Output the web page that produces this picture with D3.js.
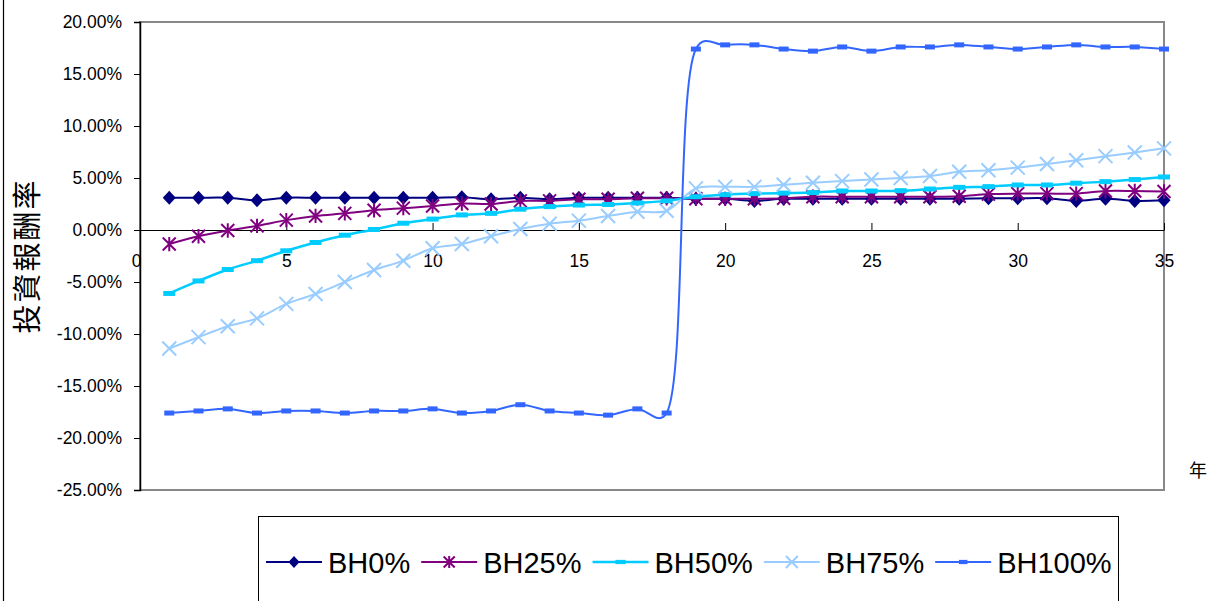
<!DOCTYPE html>
<html><head><meta charset="utf-8">
<script src="https://cdn.jsdelivr.net/npm/d3@7"></script>
<style>body{margin:0;background:#fff}svg{display:block}</style>
</head><body><svg id="c" width="1213" height="601"></svg>
<script>
const years=[1,2,3,4,5,6,7,8,9,10,11,12,13,14,15,16,17,18,19,20,21,22,23,24,25,26,27,28,29,30,31,32,33,34,35];
const bh0=[3.1,3.1,3.1,2.85,3.1,3.1,3.1,3.1,3.1,3.1,3.15,2.95,3.1,2.95,3.1,3.1,3.1,3.1,3.0,3.0,2.8,3.0,3.0,3.0,3.0,3.0,3.0,3.0,3.05,3.05,3.05,2.8,3.0,2.8,2.85];
const bh25=[-1.35,-0.6,-0.05,0.4,0.95,1.35,1.6,1.9,2.1,2.3,2.55,2.5,2.8,2.8,2.95,2.95,3.05,3.05,3.0,3.0,3.0,3.05,3.2,3.2,3.2,3.2,3.2,3.25,3.45,3.5,3.5,3.5,3.75,3.75,3.7];
const bh50=[-6.1,-4.9,-3.8,-2.95,-2.0,-1.2,-0.5,0.05,0.65,1.05,1.45,1.6,2.0,2.25,2.4,2.45,2.6,2.8,3.2,3.4,3.5,3.55,3.6,3.75,3.75,3.78,3.94,4.1,4.17,4.33,4.33,4.5,4.65,4.85,5.1];
const bh75=[-11.4,-10.3,-9.25,-8.5,-7.1,-6.15,-5.0,-3.85,-2.95,-1.75,-1.35,-0.6,0.1,0.6,0.9,1.35,1.75,1.85,4.0,4.15,4.15,4.35,4.55,4.7,4.85,5.0,5.2,5.6,5.75,6.0,6.35,6.7,7.1,7.45,7.85];
const bh100=[-17.6,-17.4,-17.2,-17.6,-17.4,-17.4,-17.6,-17.4,-17.4,-17.2,-17.6,-17.4,-16.8,-17.4,-17.6,-17.8,-17.2,-17.6,17.4,17.8,17.8,17.4,17.2,17.6,17.2,17.6,17.6,17.8,17.6,17.4,17.6,17.8,17.6,17.6,17.4];
const seriesNames=["BH0%","BH25%","BH50%","BH75%","BH100%"];
const seriesColors=["#000080","#800080","#00CCFF","#99CCFF","#3366FF"];
const seriesMarkers=["diamond","star","dash","cross","smalldash"];
const xTicks=[0,5,10,15,20,25,30,35];
const yTicks=[-25,-20,-15,-10,-5,0,5,10,15,20];
const yTitle="投資報酬率";
const xTitle="年";

const seriesValues=[bh0,bh25,bh50,bh75,bh100];
const svg=d3.select("#c");
const FONT="'Liberation Sans', Arial, sans-serif";
const CJK="'Noto Sans CJK TC','Noto Sans CJK SC',sans-serif";

const x=d3.scaleLinear().domain([0,35]).range([140,1164]);
const y=d3.scaleLinear().domain([-25,20]).range([490,22]);

// outer left frame line
svg.append("line").attr("x1",3.5).attr("x2",3.5).attr("y1",0).attr("y2",601)
  .attr("stroke","#000").attr("stroke-width",1.2);

// plot area border
svg.append("rect").attr("x",x(0)).attr("y",y(20)).attr("width",x(35)-x(0)).attr("height",y(-25)-y(20))
  .attr("fill","none").attr("stroke","#888").attr("stroke-width",2);

// y axis
const ya=svg.append("g").attr("transform",`translate(${x(0)},0)`)
  .call(d3.axisLeft(y).tickValues(yTicks).tickSize(6).tickPadding(12).tickFormat(d=>d.toFixed(2)+"%"));
ya.select(".domain").attr("stroke","#000").attr("stroke-width",1.5);
ya.selectAll(".tick line").attr("stroke","#000");
ya.selectAll("text").attr("font-family",FONT).attr("font-size",17.5).attr("fill","#000");

// x axis at y=0
const xa=svg.append("g").attr("transform",`translate(0,${y(0)})`)
  .call(d3.axisBottom(x).tickValues(xTicks).tickSizeInner(-7).tickSizeOuter(0).tickPadding(25).tickFormat(d3.format("d")));
xa.select(".domain").attr("stroke","#000").attr("stroke-width",1.2);
xa.selectAll(".tick line").attr("stroke","#000");
xa.selectAll("text").attr("font-family",FONT).attr("font-size",17.5).attr("fill","#000");
xa.selectAll(".tick").filter(d=>d===0).select("text").attr("dx",-4);

// titles
svg.append("text").attr("transform",`translate(38,256) rotate(-90)`)
  .attr("text-anchor","middle").attr("font-family",CJK).attr("font-size",29)
  .attr("letter-spacing",2).attr("fill","#000").text(yTitle);
svg.append("text").attr("x",1198).attr("y",477).attr("text-anchor","middle")
  .attr("font-family",CJK).attr("font-size",18).attr("fill","#000").text(xTitle);

// markers
function drawMarker(g,type,color,cx,cy,s){
  if(type==="diamond"){
    g.append("path").attr("d",`M${cx},${cy-7*s}L${cx+6.5*s},${cy}L${cx},${cy+7*s}L${cx-6.5*s},${cy}Z`).attr("fill",color);
  } else if(type==="star"){
    const r=6.5*s;
    g.append("path").attr("d",`M${cx-r},${cy-r}L${cx+r},${cy+r}M${cx-r},${cy+r}L${cx+r},${cy-r}M${cx},${cy-r*1.1}L${cx},${cy+r*1.1}`)
      .attr("stroke",color).attr("stroke-width",2).attr("fill","none");
  } else if(type==="cross"){
    const r=7*s;
    g.append("path").attr("d",`M${cx-r},${cy-r}L${cx+r},${cy+r}M${cx-r},${cy+r}L${cx+r},${cy-r}`)
      .attr("stroke",color).attr("stroke-width",2).attr("fill","none");
  } else if(type==="dash"){
    g.append("rect").attr("x",cx-6*s).attr("y",cy-2.5*s).attr("width",12*s).attr("height",5*s).attr("fill",color);
  } else if(type==="smalldash"){
    g.append("rect").attr("x",cx-5*s).attr("y",cy-2.5*s).attr("width",10*s).attr("height",5*s).attr("fill",color);
  }
}

const line=d3.line().x((d,i)=>x(years[i])).y(d=>y(d)).curve(d3.curveCatmullRom.alpha(0.35));
const plot=svg.append("g");
seriesValues.forEach((vals,k)=>{
  const g=plot.append("g");
  g.append("path").attr("d",line(vals)).attr("fill","none").attr("stroke",seriesColors[k])
    .attr("stroke-width",k===2?2.5:2);
  vals.forEach((v,i)=>drawMarker(g,seriesMarkers[k],seriesColors[k],x(years[i]),y(v),1));
});

// legend
svg.append("rect").attr("x",258.5).attr("y",516.5).attr("width",860).attr("height",120)
  .attr("fill","#fff").attr("stroke","#000").attr("stroke-width",1);
let lx=266;
const ly=562;
seriesNames.forEach((name,k)=>{
  const g=svg.append("g");
  g.append("line").attr("x1",lx).attr("x2",lx+56).attr("y1",ly).attr("y2",ly)
    .attr("stroke",seriesColors[k]).attr("stroke-width",k===2?2.5:2);
  drawMarker(g,seriesMarkers[k],seriesColors[k],lx+28,ly,0.85);
  const t=g.append("text").attr("x",lx+62).attr("y",ly+10.5).attr("font-family",FONT)
    .attr("font-size",29).attr("fill","#000").text(name);
  lx+=62+t.node().getComputedTextLength()+11;
});
</script></body></html>
